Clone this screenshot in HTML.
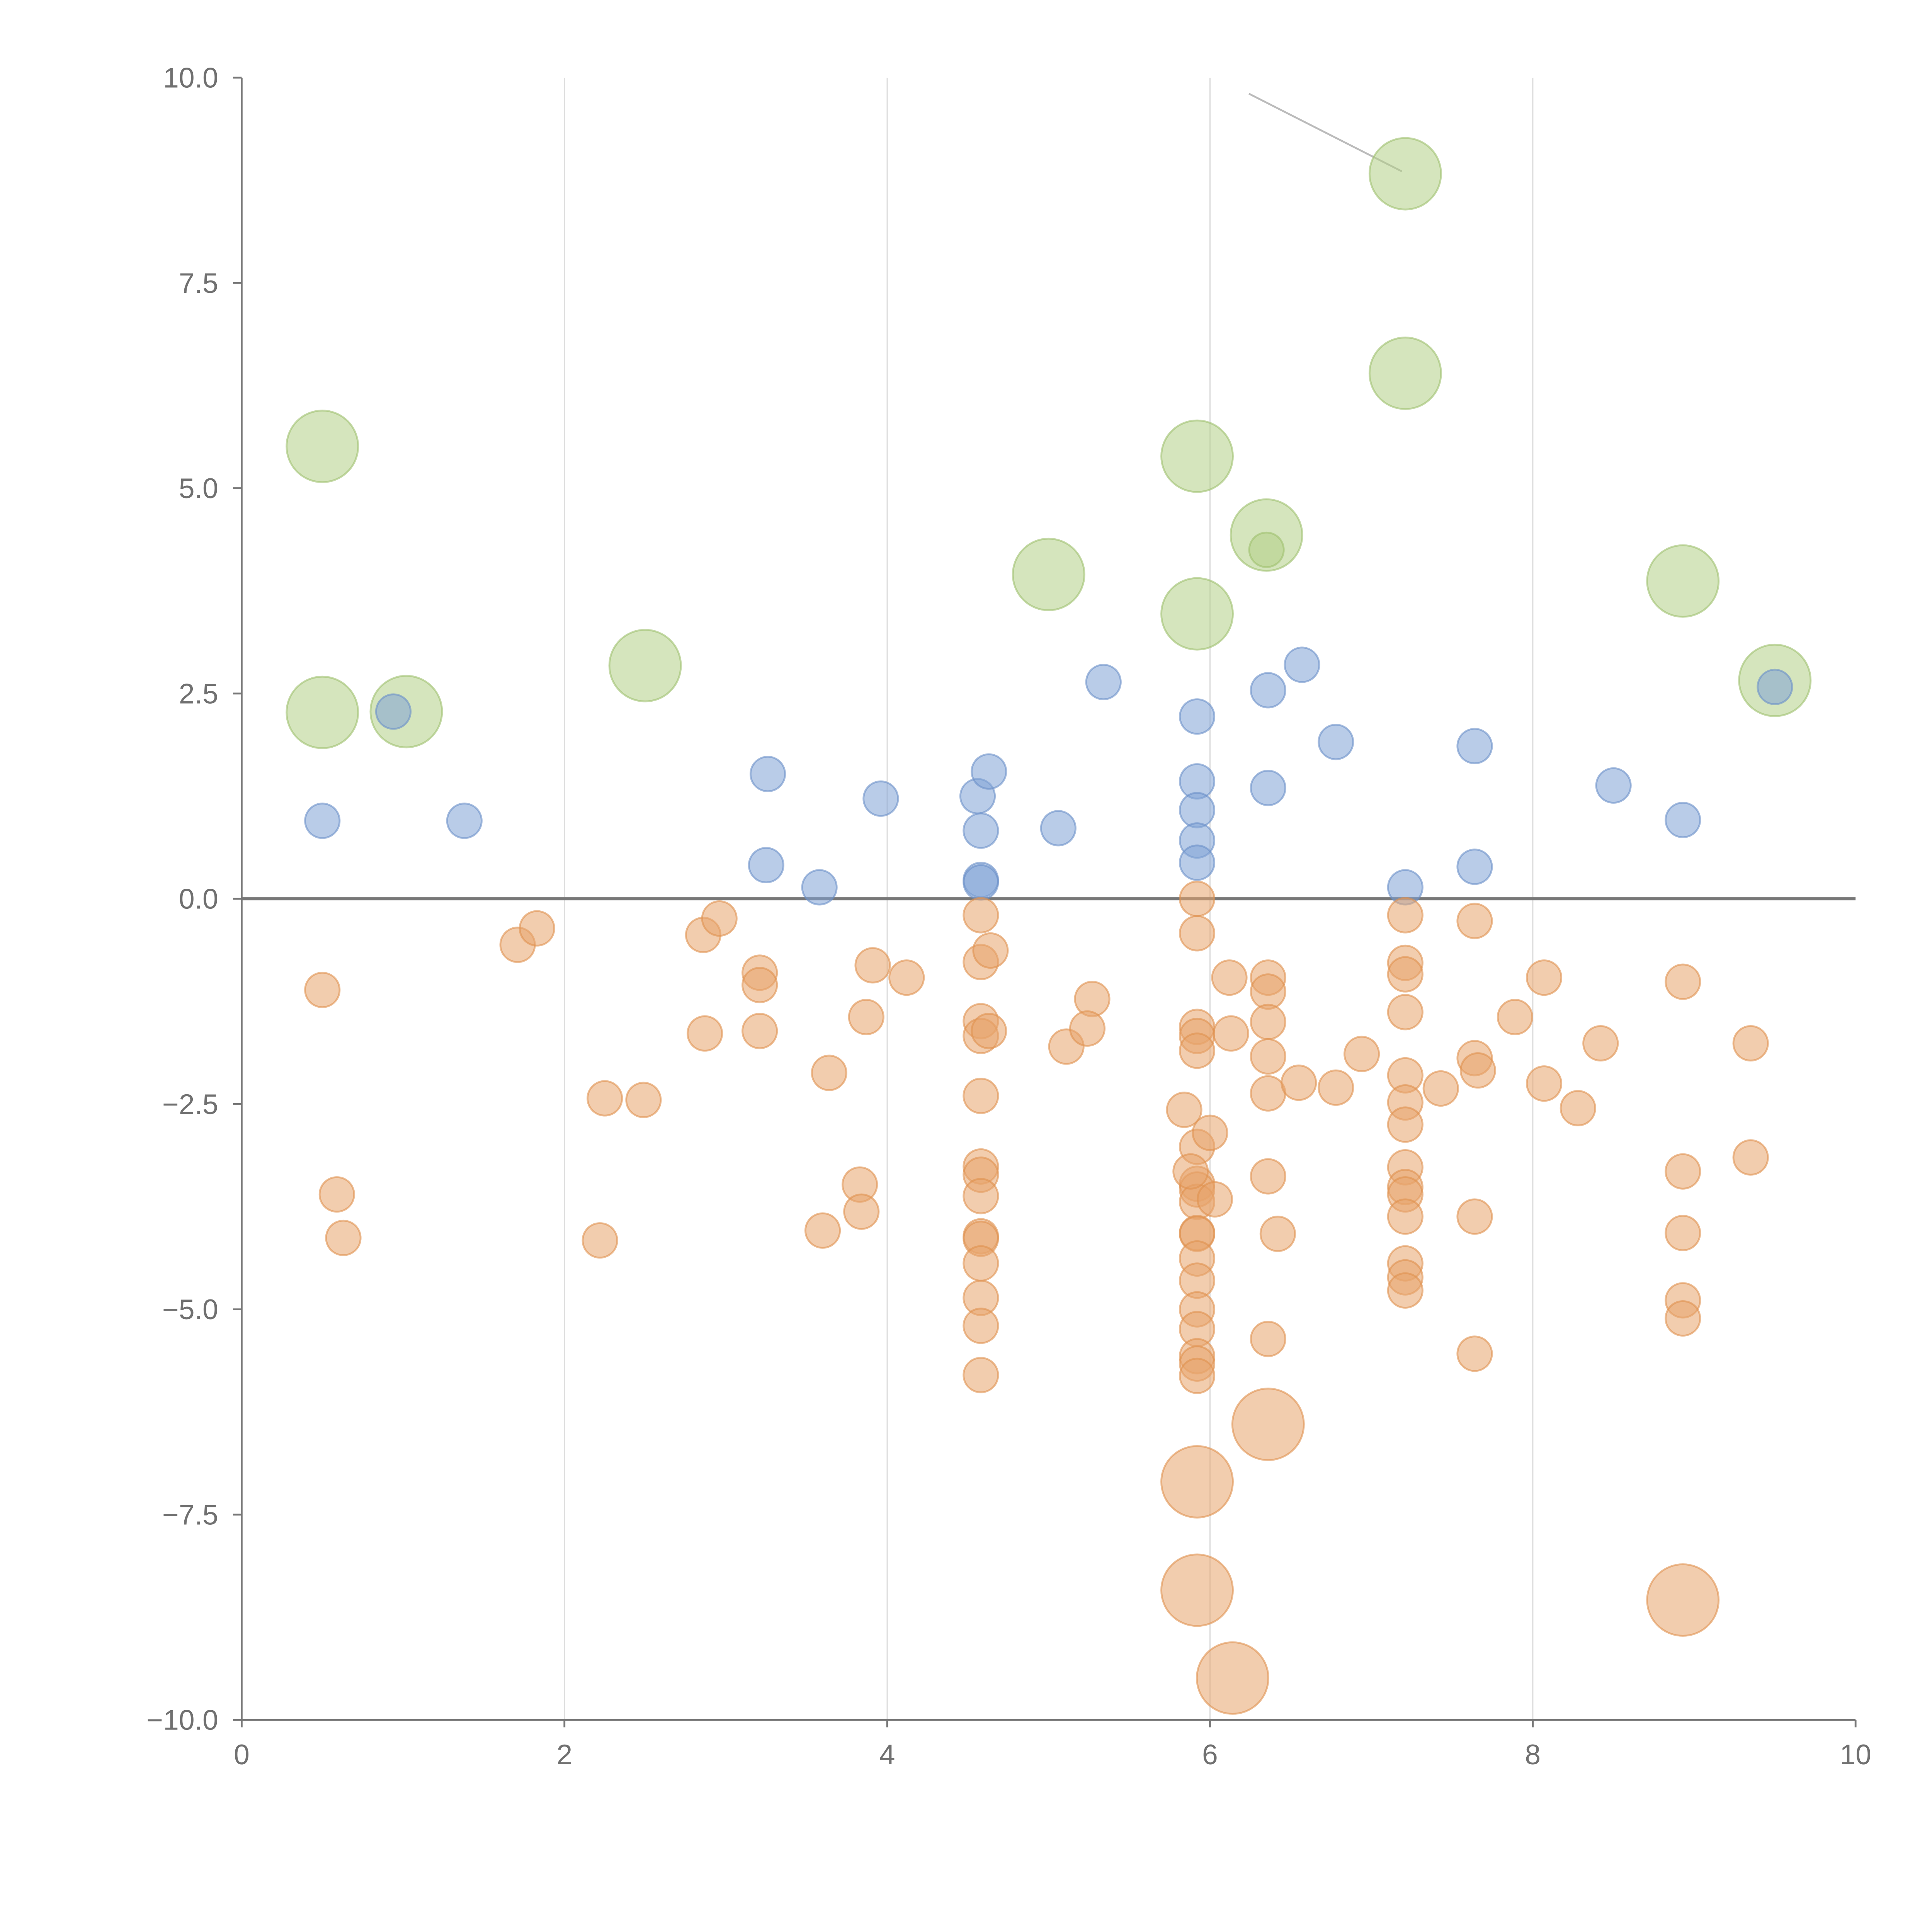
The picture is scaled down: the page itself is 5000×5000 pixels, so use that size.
<!DOCTYPE html>
<html><head><meta charset="utf-8"><style>
html,body{margin:0;padding:0;background:#fff;}
svg{display:block;}
text{font-family:"Liberation Sans",sans-serif;fill:#707070;font-size:23px;}
</style></head><body>
<svg id="chart" width="5000" height="5000" viewBox="0 0 1567 1567" xmlns="http://www.w3.org/2000/svg">
<g id="grid"></g>
<g id="axes"></g>
<g id="marks"></g>
</svg>
<script>
const xTicks=[0,2,4,6,8,10];
const yTicks=[10,7.5,5,2.5,0,-2.5,-5,-7.5,-10];
const yTickLabels=["10.0","7.5","5.0","2.5","0.0","\u22122.5","\u22125.0","\u22127.5","\u221210.0"];
const greenX=[0.50,0.50,1.02,2.50,5.00,5.92,5.92,6.35,7.21,7.21,8.93,9.50];
const greenY=[5.51,2.27,2.28,2.84,3.95,5.39,3.47,4.43,8.83,6.40,3.87,2.66];
const greenSmallX=[6.35];
const greenSmallY=[4.25];
const blueX=[0.50,0.94,1.38,3.26,3.25,3.58,3.96,4.56,4.58,4.63,4.58,4.58,5.06,5.34,5.92,5.92,5.92,5.92,5.92,6.36,6.36,6.57,6.78,7.21,7.64,7.64,8.50,8.93,9.50];
const blueY=[0.95,2.28,0.95,1.52,0.41,0.14,1.22,1.25,0.83,1.55,0.23,0.20,0.86,2.64,2.22,1.43,1.08,0.71,0.44,2.54,1.35,2.85,1.91,0.14,1.86,0.39,1.38,0.96,2.58];
const orangeX=[0.50,0.59,0.63,1.71,1.83,2.25,2.49,2.22,2.86,2.96,2.87,3.21,3.21,3.21,3.60,3.64,3.91,3.87,4.12,3.83,3.84,
4.58,4.58,4.58,4.58,4.58,4.58,4.58,4.58,4.58,4.58,4.58,4.58,4.58,4.58,
4.64,4.63,5.11,5.27,5.24,
5.92,5.92,5.92,5.92,5.92,5.92,5.92,5.92,5.92,5.92,5.92,5.92,5.92,5.92,5.92,5.92,5.92,5.92,
5.84,6.00,5.88,6.03,6.12,6.13,
6.36,6.36,6.36,6.36,6.36,6.36,6.36,
6.42,6.55,6.78,6.94,
7.21,7.21,7.21,7.21,7.21,7.21,7.21,7.21,7.21,7.21,7.21,7.21,7.21,7.21,
7.43,7.64,7.64,7.64,7.64,7.66,7.89,8.07,8.07,8.28,8.42,
8.93,8.93,8.93,8.93,8.93,9.35,9.35];
const orangeY=[-1.11,-3.60,-4.13,-0.56,-0.36,-2.43,-2.45,-4.16,-0.44,-0.24,-1.64,-0.90,-1.05,-1.61,-4.04,-2.12,-0.81,-1.44,-0.96,-3.48,-3.81,
-0.20,-0.77,-1.49,-1.67,-2.40,-3.26,-3.36,-3.62,-4.11,-4.14,-4.44,-4.86,-5.20,-5.80,
-0.63,-1.61,-1.80,-1.22,-1.58,
0.00,-0.42,-1.56,-1.67,-1.85,-3.02,-3.47,-3.54,-3.69,-4.07,-4.08,-4.38,-4.65,-5.00,-5.24,-5.57,-5.66,-5.81,
-2.57,-2.85,-3.32,-3.66,-0.96,-1.64,
-0.96,-1.13,-1.50,-1.92,-2.37,-3.38,-5.36,
-4.08,-2.24,-2.30,-1.89,
-0.20,-0.78,-0.92,-1.38,-2.15,-2.48,-2.75,-3.27,-3.51,-3.60,-3.87,-4.44,-4.61,-4.77,
-2.31,-0.27,-1.94,-3.87,-5.54,-2.09,-1.44,-0.96,-2.25,-2.55,-1.76,
-1.01,-3.32,-4.07,-4.89,-5.11,-1.76,-3.15];
const orangeBigX=[5.92,6.36,5.92,6.14,8.93];
const orangeBigY=[-7.10,-6.40,-8.42,-9.49,-8.54];

const X0=196,X1=1505,Y0=1395,Y1=63;
const sx=v=>X0+(v-0)/(10-0)*(X1-X0);
const sy=v=>Y0-(v+10)/20*(Y0-Y1);
const NS="http://www.w3.org/2000/svg";
function mk(tag,attrs,parent){const e=document.createElementNS(NS,tag);for(const k in attrs)e.setAttribute(k,attrs[k]);parent.appendChild(e);return e;}
const grid=document.getElementById('grid'),axes=document.getElementById('axes'),marks=document.getElementById('marks');
xTicks.forEach((t,i)=>{
  if(t>0&&t<10){const g=mk('line',{x1:sx(t),x2:sx(t),y1:Y1,y2:Y0,stroke:'#ddd','stroke-width':1},grid);
  
  }
  const tk=mk('line',{x1:sx(t),x2:sx(t),y1:Y0,y2:Y0+6,stroke:'#777','stroke-width':1.5},axes);
  
  
  const tx=mk('text',{x:sx(t),y:Y0+36,'text-anchor':'middle'},axes);tx.textContent=String(t);
  
  
});
yTicks.forEach((t,i)=>{
  const tk=mk('line',{x1:X0-7,x2:X0,y1:sy(t),y2:sy(t),stroke:'#777','stroke-width':1.5},axes);
  
  
  const tx=mk('text',{x:X0-19,y:sy(t)+8,'text-anchor':'end'},axes);tx.textContent=yTickLabels[i];
  
  
});
const ya=mk('line',{x1:X0,x2:X0,y1:Y1,y2:Y0,stroke:'#777','stroke-width':1.5},axes);


const xa=mk('line',{x1:X0,x2:X1,y1:Y0,y2:Y0,stroke:'#777','stroke-width':1.5},axes);


const zl=mk('line',{x1:X0,x2:X1,y1:sy(0),y2:sy(0),stroke:'#777','stroke-width':2.5},axes);


const lead=mk('line',{x1:1013,y1:76,x2:1137,y2:139,stroke:'#bbb','stroke-width':1.5},axes);


function dots(xs,ys,r,fill,stroke,name){
  xs.forEach((x,i)=>{
    const c=mk('circle',{cx:sx(x),cy:sy(ys[i]),r:r,fill:fill,'fill-opacity':0.55,stroke:stroke,'stroke-opacity':0.6,'stroke-width':1.5},marks);
    
    
  });
}
dots(greenX,greenY,29,'#b3cf87','#9fbf6e','green-bubble');
dots(greenSmallX,greenSmallY,14,'#b3cf87','#9fbf6e','green-point');
dots(blueX,blueY,14,'#7fa2d6','#6a8fc8','blue-point');
dots(orangeX,orangeY,14,'#e7a46c','#e0914e','orange-point');
dots(orangeBigX,orangeBigY,29,'#e7a46c','#e0914e','orange-bubble');
</script>
</body></html>
